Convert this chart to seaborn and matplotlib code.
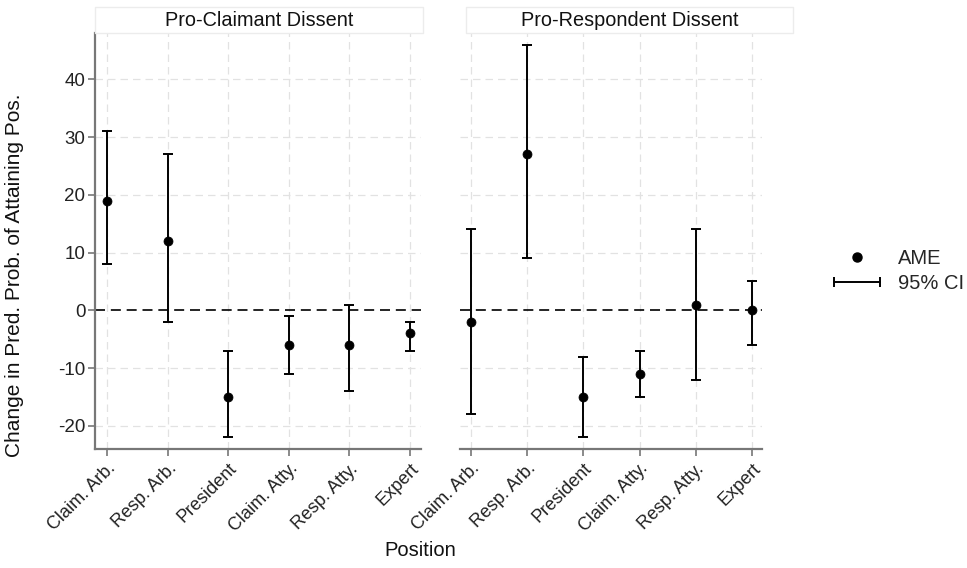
import numpy as np
import pandas as pd
import matplotlib
matplotlib.use('Agg')
import matplotlib.pyplot as plt
import seaborn as sns
from matplotlib.lines import Line2D
from matplotlib.patches import Rectangle
from matplotlib.legend_handler import HandlerLine2D

# data
positions = ['Claim. Arb.', 'Resp. Arb.', 'President', 'Claim. Atty.', 'Resp. Atty.', 'Expert']
panels = ['Pro-Claimant Dissent', 'Pro-Respondent Dissent']

claim_ame = [19, 12, -15, -6, -6, -4]
claim_lo = [8, -2, -22, -11, -14, -7]
claim_hi = [31, 27, -7, -1, 1, -2]

resp_ame = [-2, 27, -15, -11, 1, 0]
resp_lo = [-18, 9, -22, -15, -12, -6]
resp_hi = [14, 46, -8, -7, 14, 5]

df = pd.DataFrame({
    'panel': [panels[0]] * 6 + [panels[1]] * 6,
    'position': positions * 2,
    'ame': claim_ame + resp_ame,
    'lo': claim_lo + resp_lo,
    'hi': claim_hi + resp_hi,
})
df['x'] = df.groupby('panel').cumcount()

sns.set_style('white')
plt.rcParams['font.family'] = ['Liberation Sans', 'DejaVu Sans']
plt.rcParams['axes.unicode_minus'] = False

W, H = 967, 568
fig = plt.figure(figsize=(W / 100, H / 100), dpi=100)

def px(l, t, r, b):
    return [l / W, 1 - b / H, (r - l) / W, (b - t) / H]

ax_boxes = [px(95, 33, 421, 449), px(460, 33, 762, 449)]
strip_boxes = [(95, 7, 423, 33), (466, 7, 793, 33)]
grid_kw = dict(color='#e2e2e2', linestyle=(0, (6, 4)), linewidth=0.9)

for i, name in enumerate(panels):
    ax = fig.add_axes(ax_boxes[i])
    sub = df[df['panel'] == name]
    ax.set_xlim(-0.2, 5.18)
    ax.set_ylim(-24, 48)
    ax.set_yticks([-20, -10, 0, 10, 20, 30, 40])
    ax.set_xticks(range(6))
    for t in range(6):
        ax.axvline(t, zorder=0, **grid_kw)
    for t in [-20, -10, 10, 20, 30, 40]:
        ax.axhline(t, zorder=0, **grid_kw)
    ax.axhline(0, color='black', linestyle=(0, (6, 3.5)), linewidth=1.2, zorder=1)
    ax.errorbar(sub['x'], sub['ame'],
                yerr=[sub['ame'] - sub['lo'], sub['hi'] - sub['ame']],
                fmt='none', ecolor='black', elinewidth=1.4, capsize=3.5,
                capthick=1.4, zorder=2)
    sns.scatterplot(data=sub, x='x', y='ame', ax=ax, color='black', s=42,
                    edgecolor='black', zorder=3, legend=False)
    ax.set_xticklabels(positions, rotation=45, ha='right', rotation_mode='anchor',
                       fontsize=13, color='#222222')
    ax.set_xlabel('')
    ax.set_ylabel('')
    for s in ['top', 'right']:
        ax.spines[s].set_visible(False)
    ax.spines['bottom'].set_color('#777777')
    ax.spines['bottom'].set_linewidth(1.6)
    ax.tick_params(axis='x', length=5, width=1.2, color='#777777', direction='out', bottom=True, pad=3)
    if i == 0:
        ax.spines['left'].set_color('#777777')
        ax.spines['left'].set_linewidth(1.6)
        ax.tick_params(axis='y', length=5, width=1.2, color='#777777', direction='out',
                       left=True, labelsize=13.5, labelcolor='#222222', pad=2)
    else:
        ax.spines['left'].set_visible(False)
        ax.tick_params(axis='y', left=False, labelleft=False)

    l, t, r, b = strip_boxes[i]
    fig.patches.append(Rectangle((l / W, 1 - b / H), (r - l) / W, (b - t) / H,
                                 transform=fig.transFigure, facecolor='white',
                                 edgecolor='#ececec', linewidth=1.0))
    fig.text((l + r) / 2 / W, 1 - (t + b) / 2 / H, name, ha='center', va='center',
             fontsize=14.3, color='#111111')

fig.text(15 / W, 1 - 275 / H, 'Change in Pred. Prob. of Attaining Pos.', rotation=90,
         ha='center', va='center', fontsize=15, color='#111111')
fig.text(420 / W, 1 - 551 / H, 'Position', ha='center', va='center', fontsize=14.5,
         color='#111111')

h_ame = Line2D([], [], color='black', marker='o', linestyle='none', markersize=6.5)
h_ci = Line2D([], [], color='black', marker='|', linewidth=1.4, markersize=7,
              markeredgewidth=1.4)
fig.legend([h_ame, h_ci], ['AME', '95% CI'],
           handler_map={h_ci: HandlerLine2D(numpoints=2), h_ame: HandlerLine2D(numpoints=1)},
           loc='center left', bbox_to_anchor=(810 / W, 1 - 271 / H), frameon=False,
           fontsize=14.5, handlelength=2.9, handletextpad=0.55, labelspacing=0.3)

fig.savefig('out.png', dpi=100, facecolor='white')
